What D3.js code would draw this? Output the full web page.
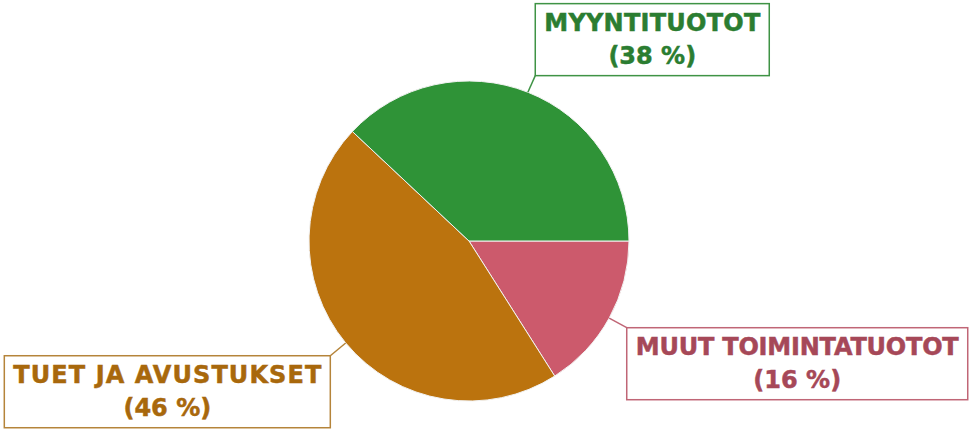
<!DOCTYPE html>
<html><head><meta charset="utf-8">
<script src="https://cdn.jsdelivr.net/npm/d3@7"></script>
<style>html,body{margin:0;padding:0;background:#fff;}svg{display:block;}</style>
</head><body>
<svg id="chart" width="973" height="429"></svg>
<script>
const categories = ["MUUT TOIMINTATUOTOT", "TUET JA AVUSTUKSET", "MYYNTITUOTOT"];
const values = [16, 46, 38];
const sliceColors = ["#cc5a6c", "#bb730e", "#2f9337"];
const textColors = ["#a64858", "#a8680c", "#2b7d31"];
const borderColors = ["#c06676", "#b5843a", "#3f9345"];
// rendered widths of the first label line (style only)
const labelLineWidths = [323, 308, 216];

const W = 973, H = 429;
const cx = 469, cy = 241, R = 160;
const svg = d3.select("#chart");
svg.append("rect").attr("width", W).attr("height", H).attr("fill", "#fff");

const data = categories.map((c, i) => ({ cat: c, value: values[i], i }));
const pie = d3.pie().value(d => d.value).sort(null)
  .startAngle(Math.PI / 2).endAngle(Math.PI / 2 + 2 * Math.PI);
const arcs = pie(data);
const arc = d3.arc().innerRadius(0).outerRadius(R);

const g = svg.append("g").attr("transform", `translate(${cx},${cy})`);
g.selectAll("path.slice").data(arcs).join("path")
  .attr("class", "slice")
  .attr("d", arc)
  .attr("fill", d => sliceColors[d.data.i])
  .attr("stroke", "#f2f2f2")
  .attr("stroke-width", 1);

const labels = svg.append("g");
arcs.forEach(a => {
  const i = a.data.i;
  const mid = (a.startAngle + a.endAngle) / 2;
  const sx = cx + R * Math.sin(mid), sy = cy - R * Math.cos(mid);
  const ex = cx + (R + 20) * Math.sin(mid), ey = cy - (R + 20) * Math.cos(mid);
  const lg = labels.append("g");
  const t1 = lg.append("text").text(a.data.cat)
    .attr("textLength", labelLineWidths[i]).attr("lengthAdjust", "spacing");
  const t2 = lg.append("text").text(`(${a.data.value} %)`);
  [t1, t2].forEach(t => t.attr("font-family", "DejaVu Sans").attr("font-weight", "bold")
    .attr("font-size", 24).attr("fill", textColors[i]).attr("text-anchor", "middle")
    .attr("stroke", textColors[i]).attr("stroke-width", 0.5));
  const tw = Math.max(labelLineWidths[i], t2.node().getComputedTextLength());
  const bw = tw + 18, bh = 72;
  const right = Math.sin(mid) >= 0;
  const top = Math.cos(mid) > 0;
  const bx = right ? ex : ex - bw;
  const by = top ? ey - bh + 2 : ey;
  lg.insert("rect", "text")
    .attr("x", bx).attr("y", by).attr("width", bw).attr("height", bh)
    .attr("fill", "#fff").attr("stroke", borderColors[i]).attr("stroke-width", 1.5);
  t1.attr("x", bx + bw / 2).attr("y", by + 27.5);
  t2.attr("x", bx + bw / 2).attr("y", by + 60);
  labels.append("line")
    .attr("x1", sx).attr("y1", sy).attr("x2", right ? bx : bx + bw).attr("y2", top ? by + bh : by)
    .attr("stroke", borderColors[i]).attr("stroke-width", 1.5);
});
</script>
</body></html>
